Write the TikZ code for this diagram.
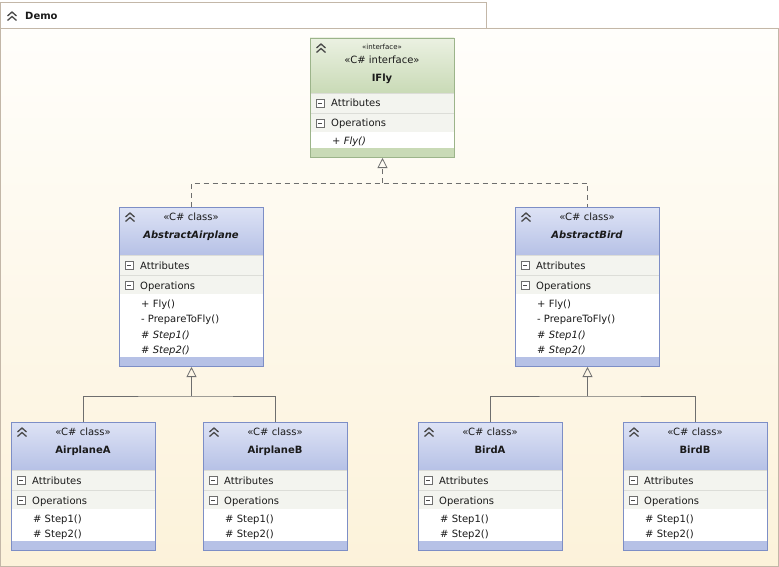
\documentclass[tikz,border=0pt]{standalone}
\usepackage{fontspec}
\setmainfont{DejaVu Sans}
\usepackage{tikz}
\usetikzlibrary{arrows.meta}

\definecolor{clstop}{HTML}{DEE3F5}
\definecolor{clsbot}{HTML}{B6C1E6}
\definecolor{clsline}{HTML}{7D8EC6}
\definecolor{ifctop}{HTML}{EBF1E2}
\definecolor{ifcbot}{HTML}{C9DAB6}
\definecolor{ifcline}{HTML}{9CB48A}
\definecolor{rowfill}{HTML}{F3F4EF}
\definecolor{rowline}{HTML}{DCDDD8}
\definecolor{bgtop}{HTML}{FFFEFB}
\definecolor{bgbot}{HTML}{FCF2DA}
\definecolor{frameline}{HTML}{C3B7A8}
\definecolor{wireline}{HTML}{6E6E6E}
\definecolor{iconline}{HTML}{4A4A4A}
\definecolor{txt}{HTML}{1A1A1A}

% #1 name, #2 left, #3 top, #4 header height, #5 operation area height,
% #6 colour set (cls/ifc), #7 header text, #8 operations
\newcommand{\umlclass}[8]{%
  \begin{scope}[shift={(#2,#3)}]
    \shade[top color=#6top, bottom color=#6bot] (0,0) rectangle (144,#4);
    \fill[rowfill] (0,#4) rectangle (144,#4+39);
    \draw[rowline] (0,#4) -- (144,#4) (0,#4+20) -- (144,#4+20);
    \fill[white] (0,#4+39) rectangle (144,#4+39+#5);
    \fill[#6bot] (0,#4+39+#5) rectangle (144,#4+48+#5);
    \pic at (11,11) {chevrons};
    \node[anchor=north, align=center, font=\fontsize{10}{18}\selectfont] (#1-head) at (72,6) {#7};
    \pic at (10,#4+10) {minusbox};
    \node[anchor=base west] (#1-attr) at (21,#4+14) {Attributes};
    \pic at (10,#4+30) {minusbox};
    \node[anchor=base west] (#1-ops) at (21,#4+34) {Operations};
    \foreach \op [count=\k] in {#8}
      \node[anchor=base west] (#1-op\k) at (22,#4+39+13+\k*15.5-15.5) {\op};
  \end{scope}
  \node[classbox=#6, minimum height={(#4+48+#5)*1pt}, anchor=north west] (#1) at (#2,#3) {};
}

\begin{document}
\begin{tikzpicture}[
    x=1pt, y=-1pt,
    every node/.style={font=\fontsize{10}{12}\selectfont, text=txt, inner sep=0pt},
    classbox/.style={draw=#1line, line width=1pt, minimum width=144pt},
    gen/.style={draw=wireline, line width=0.8pt},
    realize/.style={gen, dash pattern=on 5pt off 4pt},
    tip/.style={-{Triangle[open, length=10pt, width=10pt]}},
    pics/chevrons/.style={code={
      \draw[iconline, line width=1.3pt] (-4.5,-1) -- (0,-5) -- (4.5,-1) (-4.5,3.5) -- (0,-0.5) -- (4.5,3.5);}},
    pics/minusbox/.style={code={
      \draw[iconline!80, fill=white, line width=0.6pt] (-4,-4) rectangle (4,4);
      \draw[iconline, line width=0.8pt] (-2,0) -- (2,0);}}
  ]
    \useasboundingbox (0,0) rectangle (779,567);

    % container with its tab
    \shade[top color=bgtop, bottom color=bgbot] (0,28) rectangle (778,566);
    \draw[frameline] (0,28) rectangle (778,566);
    \draw[frameline, fill=white] (0,2) rectangle (486,28);
    \pic at (12,17) {chevrons};
    \node[anchor=west, font=\bfseries\fontsize{10}{12}\selectfont] (demo) at (25,16) {Demo};

    % interface
    \umlclass{ifly}{310}{38}{55}{16}{ifc}
      {{\fontsize{7}{8}\selectfont «interface»}\\[-4pt]«C\# interface»\\\textbf{IFly}}
      {\textit{+ Fly()}}

    % abstract classes
    \umlclass{abplane}{119}{207}{48}{63}{cls}
      {«C\# class»\\\textbf{\textit{AbstractAirplane}}}
      {+ Fly(), - PrepareToFly(), \textit{\# Step1()}, \textit{\# Step2()}}
    \umlclass{abbird}{515}{207}{48}{63}{cls}
      {«C\# class»\\\textbf{\textit{AbstractBird}}}
      {+ Fly(), - PrepareToFly(), \textit{\# Step1()}, \textit{\# Step2()}}

    % concrete classes
    \umlclass{planeA}{11}{422}{48}{32}{cls}{«C\# class»\\\textbf{AirplaneA}}{\# Step1(), \# Step2()}
    \umlclass{planeB}{203}{422}{48}{32}{cls}{«C\# class»\\\textbf{AirplaneB}}{\# Step1(), \# Step2()}
    \umlclass{birdA}{418}{422}{48}{32}{cls}{«C\# class»\\\textbf{BirdA}}{\# Step1(), \# Step2()}
    \umlclass{birdB}{623}{422}{48}{32}{cls}{«C\# class»\\\textbf{BirdB}}{\# Step1(), \# Step2()}

    % realization of IFly
    \coordinate (flyjoin) at ([yshift=-25pt]ifly.south);
    \draw[realize] (abplane.north) |- (flyjoin) -| (abbird.north);
    \draw[realize, tip] (flyjoin) -- (ifly.south);

    % generalization
    \coordinate (planejoin) at ([yshift=-29pt]abplane.south);
    \draw[gen] (planeA.north) |- (planejoin) -| (planeB.north);
    \draw[gen, tip] (planejoin) -- (abplane.south);
    \coordinate (birdjoin) at ([yshift=-29pt]abbird.south);
    \draw[gen] (birdA.north) |- (birdjoin) -| (birdB.north);
    \draw[gen, tip] (birdjoin) -- (abbird.south);

  \end{tikzpicture}
\end{document}
